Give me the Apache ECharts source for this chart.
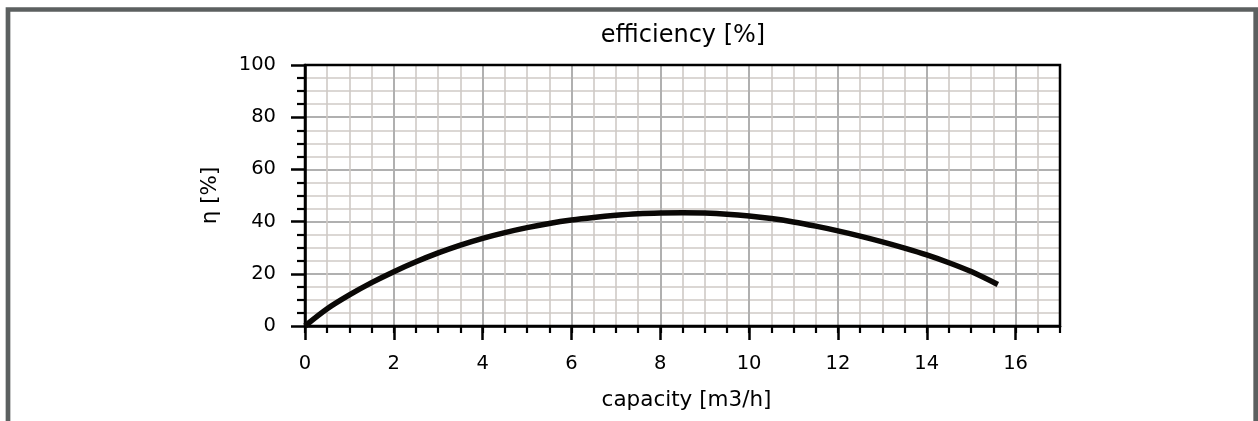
<!DOCTYPE html>
<html>
<head>
<meta charset="utf-8">
<script src="https://cdn.jsdelivr.net/npm/echarts@6/dist/echarts.min.js"></script>
<style>
html,body{margin:0;padding:0;background:#fff;}
#chart{width:1258px;height:421px;}
</style>
</head>
<body>
<div id="chart"></div>
<script>
// Data
const capacity = [0, 0.5, 1, 1.5, 2, 2.5, 3, 3.5, 4, 4.5, 5, 5.5, 6, 6.5, 7, 7.5, 8, 8.5, 9, 9.5, 10, 10.5, 11, 11.5, 12, 12.5, 13, 13.5, 14, 14.5, 15, 15.6];
const efficiency = [0, 6.6, 11.9, 16.6, 20.8, 24.6, 28.0, 31.0, 33.6, 35.8, 37.7, 39.3, 40.6, 41.6, 42.4, 43.0, 43.3, 43.4, 43.25, 42.85, 42.15, 41.15, 39.85, 38.25, 36.45, 34.45, 32.25, 29.85, 27.25, 24.25, 20.85, 15.9];
const xMajorTicks = [0, 2, 4, 6, 8, 10, 12, 14, 16];
const yTicks = [0, 20, 40, 60, 80, 100];
const titleText = 'efficiency [%]';
const xName = 'capacity [m3/h]';
const yName = 'η [%]';

const FONT = 'DejaVu Sans';
const chart = echarts.init(document.getElementById('chart'), null, {renderer: 'canvas'});

const seriesData = capacity.map((c, i) => [c, efficiency[i]]);

chart.setOption({
  animation: false,
  backgroundColor: '#ffffff',
  title: {
    text: titleText,
    left: 678,
    top: 19,
    textAlign: 'center',
    textStyle: {fontFamily: FONT, fontSize: 24, fontWeight: 'normal', color: '#000'}
  },
  graphic: [{
    type: 'rect',
    shape: {x: 8, y: 9.5, width: 1247.7, height: 600},
    style: {fill: 'none', stroke: '#5c6060', lineWidth: 4.7},
    z: 100
  }],
  grid: {
    left: 305, top: 65, width: 755, height: 261,
    show: true, borderColor: '#000', borderWidth: 2.5, backgroundColor: 'transparent', z: 5
  },
  xAxis: [
    {
      // minor grid + minor ticks
      type: 'value', min: 0, max: 17, interval: 0.5,
      position: 'bottom', z: 1,
      axisLine: {show: false},
      axisTick: {show: true, inside: false, length: 7, lineStyle: {color: '#000', width: 2.2}},
      axisLabel: {show: false},
      splitLine: {show: true, lineStyle: {color: '#cfcac6', width: 1.6}}
    },
    {
      type: 'value', min: 0, max: 17, interval: 2,
      position: 'bottom', z: 2,
      name: xName, nameLocation: 'middle', nameGap: 63,
      nameTextStyle: {fontFamily: FONT, fontSize: 21.5, color: '#000', padding: [0, 0, 0, 8]},
      axisLine: {show: true, onZero: false, lineStyle: {color: '#000', width: 2.5}},
      axisTick: {show: true, inside: false, length: 14, customValues: xMajorTicks, lineStyle: {color: '#000', width: 2.5}},
      axisLabel: {show: true, margin: 28, customValues: xMajorTicks,
        fontFamily: FONT, fontSize: 19.5, color: '#000'},
      splitLine: {show: true, lineStyle: {color: '#b0b0b0', width: 2}}
    }
  ],
  yAxis: [{
    type: 'value', min: 0, max: 100, interval: 20,
    name: yName, nameLocation: 'middle', nameGap: 84, nameRotate: 90,
    nameTextStyle: {fontFamily: FONT, fontSize: 21.5, color: '#000'},
    axisLine: {show: true, onZero: false, lineStyle: {color: '#000', width: 2.5}},
    axisTick: {show: true, inside: false, length: 14, lineStyle: {color: '#000', width: 2.5}},
    minorTick: {show: true, splitNumber: 4, length: 8, lineStyle: {color: '#000', width: 2.2}},
    axisLabel: {show: true, margin: 29, fontFamily: FONT, fontSize: 19.5, color: '#000',
      customValues: yTicks},
    splitLine: {show: true, lineStyle: {color: '#b0b0b0', width: 2}},
    minorSplitLine: {show: true, lineStyle: {color: '#cfcac6', width: 1.6}}
  }],
  series: [{
    type: 'line',
    xAxisIndex: 1,
    data: seriesData,
    smooth: 0.3,
    showSymbol: false,
    symbol: 'none',
    clip: false,
    lineStyle: {color: '#0a0806', width: 5.5, cap: 'butt'},
    z: 10
  }]
});
</script>
</body>
</html>
